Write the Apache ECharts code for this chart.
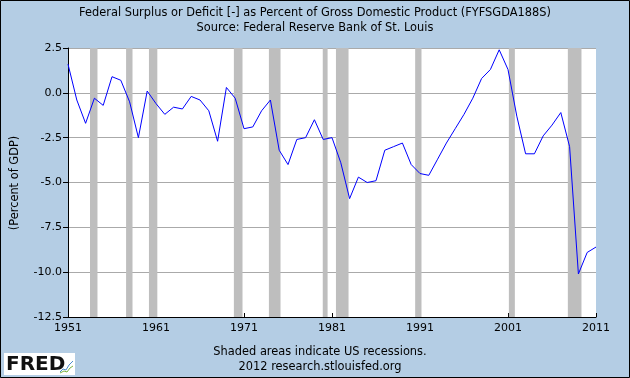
<!DOCTYPE html>
<html>
<head>
    <meta charset="utf-8" />
    <title>FYFSGDA188S</title>
    <style type="text/css">
        * { margin: 0; padding: 0 }
        html, body { width: 100%; height: 100%; background: #b4cde4; }
        #chart { width: 630px; height: 378px; }
    </style>
    <script src="https://cdn.jsdelivr.net/npm/echarts@6/dist/echarts.min.js"></script>
</head>
<body>
    <div id="chart"></div>
    <script>
        // fiscal years, one point per year
        const years = [1951, 1952, 1953, 1954, 1955, 1956, 1957, 1958, 1959, 1960,
            1961, 1962, 1963, 1964, 1965, 1966, 1967, 1968, 1969, 1970,
            1971, 1972, 1973, 1974, 1975, 1976, 1977, 1978, 1979, 1980,
            1981, 1982, 1983, 1984, 1985, 1986, 1987, 1988, 1989, 1990,
            1991, 1992, 1993, 1994, 1995, 1996, 1997, 1998, 1999, 2000,
            2001, 2002, 2003, 2004, 2005, 2006, 2007, 2008, 2009, 2010, 2011];
        // surplus (+) / deficit (-) as % of GDP
        const surplus = [1.6, -0.4, -1.7, -0.3, -0.7, 0.9, 0.7, -0.5, -2.5, 0.1,
            -0.6, -1.2, -0.8, -0.9, -0.2, -0.4, -1.0, -2.7, 0.3, -0.3,
            -2.0, -1.9, -1.0, -0.4, -3.2, -4.0, -2.6, -2.5, -1.5, -2.6,
            -2.5, -3.9, -5.9, -4.7, -5.0, -4.9, -3.2, -3.0, -2.8, -4.0,
            -4.5, -4.6, -3.7, -2.8, -2.0, -1.2, -0.3, 0.8, 1.3, 2.4,
            1.3, -1.3, -3.4, -3.4, -2.4, -1.8, -1.1, -3.0, -10.1, -8.9, -8.6];
        // recession bands (start, end) in decimal years
        const recessionStart = [1953.5, 1957.6, 1960.2, 1969.85, 1973.83, 1979.95, 1981.45, 1990.45, 2001.1, 2007.8];
        const recessionEnd = [1954.35, 1958.33, 1961.15, 1970.83, 1975.15, 1980.5, 1982.88, 1991.17, 2001.78, 2009.35];

        const firstYear = years[0];
        const chart = echarts.init(document.getElementById('chart'));
        const font = 'DejaVu Sans';
        const textFont = '11.4px "DejaVu Sans"';

        const option = {
            backgroundColor: '#b4cde4',
            animation: false,
            textStyle: { fontFamily: font },
            grid: {
                left: 68, top: 48, right: 34, bottom: 61,
                show: true, backgroundColor: '#fff', borderWidth: 0
            },
            xAxis: {
                type: 'value',
                min: 0, max: 60, interval: 10,
                axisLine: { onZero: false, lineStyle: { color: '#000', width: 1 } },
                axisTick: { inside: true, length: 4, lineStyle: { color: '#000' } },
                axisLabel: {
                    color: '#000', fontSize: 11, fontFamily: font, margin: 6,
                    formatter: v => String(v + firstYear)
                },
                splitLine: { show: false }
            },
            yAxis: {
                type: 'value',
                min: -12.5, max: 2.5, interval: 2.5,
                axisLine: { show: true, onZero: false, lineStyle: { color: '#000', width: 1 } },
                axisTick: { show: true, length: 5, lineStyle: { color: '#000' } },
                axisLabel: {
                    color: '#000', fontSize: 11, fontFamily: font, margin: 6,
                    formatter: v => v.toFixed(1)
                },
                splitLine: { lineStyle: { color: '#aaaaaa', width: 1 } }
            },
            series: [
                {
                    type: 'line',
                    data: [],
                    z: 1,
                    silent: true,
                    markArea: {
                        silent: true,
                        itemStyle: { color: '#bebebe', opacity: 1 },
                        data: recessionStart.map((s, i) => [
                            { xAxis: s - firstYear },
                            { xAxis: recessionEnd[i] - firstYear }
                        ])
                    }
                },
                {
                    type: 'line',
                    z: 3,
                    data: years.map((y, i) => [y - firstYear, surplus[i]]),
                    showSymbol: false,
                    lineStyle: { color: '#0000ff', width: 1 }
                }
            ],
            graphic: [
                {
                    type: 'text', x: 315, y: 13,
                    style: {
                        text: 'Federal Surplus or Deficit [-] as Percent of Gross Domestic Product (FYFSGDA188S)',
                        font: textFont, fill: '#000', align: 'center', verticalAlign: 'middle'
                    }
                },
                {
                    type: 'text', x: 315, y: 28,
                    style: {
                        text: 'Source: Federal Reserve Bank of St. Louis',
                        font: textFont, fill: '#000', align: 'center', verticalAlign: 'middle'
                    }
                },
                {
                    type: 'text', x: 15, y: 183, rotation: Math.PI / 2,
                    style: {
                        text: '(Percent of GDP)',
                        font: textFont, fill: '#000', align: 'center', verticalAlign: 'middle'
                    }
                },
                {
                    type: 'text', x: 320, y: 352,
                    style: {
                        text: 'Shaded areas indicate US recessions.',
                        font: textFont, fill: '#000', align: 'center', verticalAlign: 'middle'
                    }
                },
                {
                    type: 'text', x: 320, y: 367,
                    style: {
                        text: '2012 research.stlouisfed.org',
                        font: textFont, fill: '#000', align: 'center', verticalAlign: 'middle'
                    }
                },
                // FRED logo
                {
                    type: 'rect', shape: { x: 4, y: 353, width: 71, height: 22 },
                    style: { fill: '#fff' }
                },
                {
                    type: 'text', x: 6, y: 365,
                    style: {
                        text: 'FRED', font: 'bold 20px "DejaVu Sans"', fill: '#111',
                        align: 'left', verticalAlign: 'middle'
                    }
                },
                {
                    type: 'polyline',
                    shape: { points: [[60, 372], [63, 369], [66, 370], [69, 365], [73, 361]] },
                    style: { stroke: '#4a8ccc', lineWidth: 1, fill: null }
                },
                {
                    type: 'polyline',
                    shape: { points: [[60, 373], [64, 371], [67, 372], [70, 368], [73, 366]] },
                    style: { stroke: '#7cb342', lineWidth: 1, fill: null }
                },
                // outer border
                {
                    type: 'rect', shape: { x: 0.5, y: 0.5, width: 629, height: 377 },
                    style: { fill: null, stroke: '#000', lineWidth: 1 }
                }
            ]
        };
        chart.setOption(option);
    </script>
</body>
</html>
